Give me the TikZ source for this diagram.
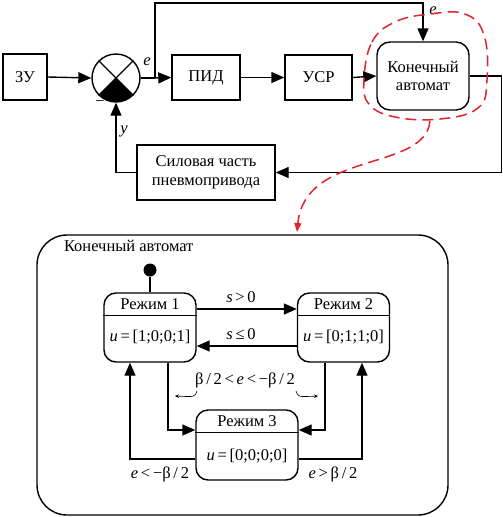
\documentclass[tikz,border=0pt]{standalone}
\usepackage{fontspec}
\setmainfont{Liberation Serif}
\usetikzlibrary{arrows.meta,calc}
\definecolor{rd}{RGB}{225,35,45}
\begin{document}
\begin{tikzpicture}[x=1pt,y=-1pt,line width=1.4pt,
  >={Triangle[length=13pt,width=11pt]},
  font=\fontsize{16.5}{18.5}\selectfont,
  blk/.style={draw,inner sep=0pt,align=center},
  state/.style={draw,rounded corners=12pt,inner sep=0pt,minimum width=92pt,minimum height=69pt},
  thin arr/.style={line width=0.6pt,-{Stealth[length=4pt,width=3.5pt]}},
  reddash/.style={draw=rd,line width=1.5pt,dash pattern=on 11pt off 6pt}]
\useasboundingbox (0,0) rectangle (503,517);
% top blocks
\node[blk,minimum width=44pt,minimum height=46pt] (zu) at (25,77) {ЗУ};
\node[draw,circle,minimum size=48pt,inner sep=0pt] (sum) at (116,78) {};
\begin{scope}
  \clip (sum.center) -- ++(-40,40) -- ++(80,0) -- cycle;
  \fill (sum.center) circle[radius=24pt];
\end{scope}
\draw (sum.45) -- (sum.225) (sum.135) -- (sum.-45);
\node[blk,minimum width=68pt,minimum height=45pt] (pid) at (206,77.5) {ПИД};
\node[blk,minimum width=67pt,minimum height=45pt] (usr) at (318.5,77.5) {УСР};
\node[blk,rounded corners=13pt,minimum width=92pt,minimum height=68pt] (ka) at (423,76) {Конечный\\автомат};
\node[blk,minimum width=138pt,minimum height=55pt] (sil) at (206,172.5) {Силовая часть\\пневмопривода};
\coordinate (br) at (155,78);
\draw[->] (zu.east) -- (sum.west);
\draw (sum.east) -- (br);
\draw[->] (br) -- (pid.west);
\draw[->] (pid.east) -- (usr.west);
\draw[->] (usr.east) -- (ka.west);
\draw[->] (br) -- ++(0,-75) -| (ka.north);
\draw[->] (ka.east) -- ++(32,0) |- (sil.east);
\draw[->] (sil.west) -| (sum.south);
\node at (147,62) {\textit{e}};
\node at (433,11) {\textit{e}};
\node at (124,131) {\textit{y}};
\node at (100,104) {−};
% red dashed
\draw[reddash] plot[smooth cycle,tension=0.7] coordinates {(364,80) (372,42) (395,22) (430,14) (465,14) (484,35) (487,80) (478,108) (440,119) (395,117) (369,104)};
\coordinate (rs) at (430,121);
\coordinate (re) at (297,232);
\draw[reddash,-{Triangle[length=9pt,width=7pt]},rd] (rs) .. controls (425,172) and (305,150) .. (re);
% bottom frame
\draw[rounded corners=30pt] (37,235) rectangle (448,515);
\node[anchor=west] (title) at (60,246) {Конечный автомат};
% states
\node[state] (r1) at (150,327.5) {};
\node[state] (r2) at (343.5,327.5) {};
\node[state,minimum width=102pt,minimum height=70pt] (r3) at (247,445) {};
\draw ($(r1.north west)+(0,23)$) -- ($(r1.north east)+(0,23)$);
\draw ($(r2.north west)+(0,23)$) -- ($(r2.north east)+(0,23)$);
\draw ($(r3.north west)+(0,23)$) -- ($(r3.north east)+(0,23)$);
\node at ($(r1.north)+(0,12)$) {Режим 1};
\node at ($(r2.north)+(0,12)$) {Режим 2};
\node at ($(r3.north)+(0,12)$) {Режим 3};
\node at ($(r1.north)+(0,45)$) {\textit{u}\,=\,[1;0;0;1]};
\node at ($(r2.north)+(0,45)$) {\textit{u}\,=\,[0;1;1;0]};
\node at ($(r3.north)+(0,47)$) {\textit{u}\,=\,[0;0;0;0]};
% initial
\node[circle,fill,minimum size=13pt,inner sep=0pt] (ini) at (150,270) {};
\draw (ini) -- (r1.north);
% transitions
\draw[->] ($(r1.east)+(0,-18.5)$) -- ($(r2.west)+(0,-18.5)$);
\draw[->] ($(r2.west)+(0,18.5)$) -- ($(r1.east)+(0,18.5)$);
\node at (241,297) {\textit{s}\,>\,0};
\node at (241,334) {\textit{s}\,≤\,0};
\draw[->] ($(r1.south)+(18,0)$) |- ($(r3.west)+(0,-15)$);
\draw[->] ($(r2.south)+(-18.5,0)$) |- ($(r3.east)+(0,-15)$);
\draw[->] ($(r3.west)+(0,14)$) -| ($(r1.south)+(-20,0)$);
\draw[->] ($(r3.east)+(0,14)$) -| ($(r2.south)+(18.5,0)$);
\node at (245,380) {β\,/\,2\,<\,\textit{e}\,<\,−β\,/\,2};
\node at (160,474) {\textit{e}\,<\,−β\,/\,2};
\node at (333,474) {\textit{e}\,>\,β\,/\,2};
\coordinate (la) at (197,391);
\coordinate (lb) at (175,396);
\coordinate (ra) at (296,391);
\coordinate (rb) at (318,396);
\draw[thin arr] (la) .. controls (195,397) .. (lb);
\draw[thin arr] (ra) .. controls (298,397) .. (rb);
\end{tikzpicture}
\end{document}
